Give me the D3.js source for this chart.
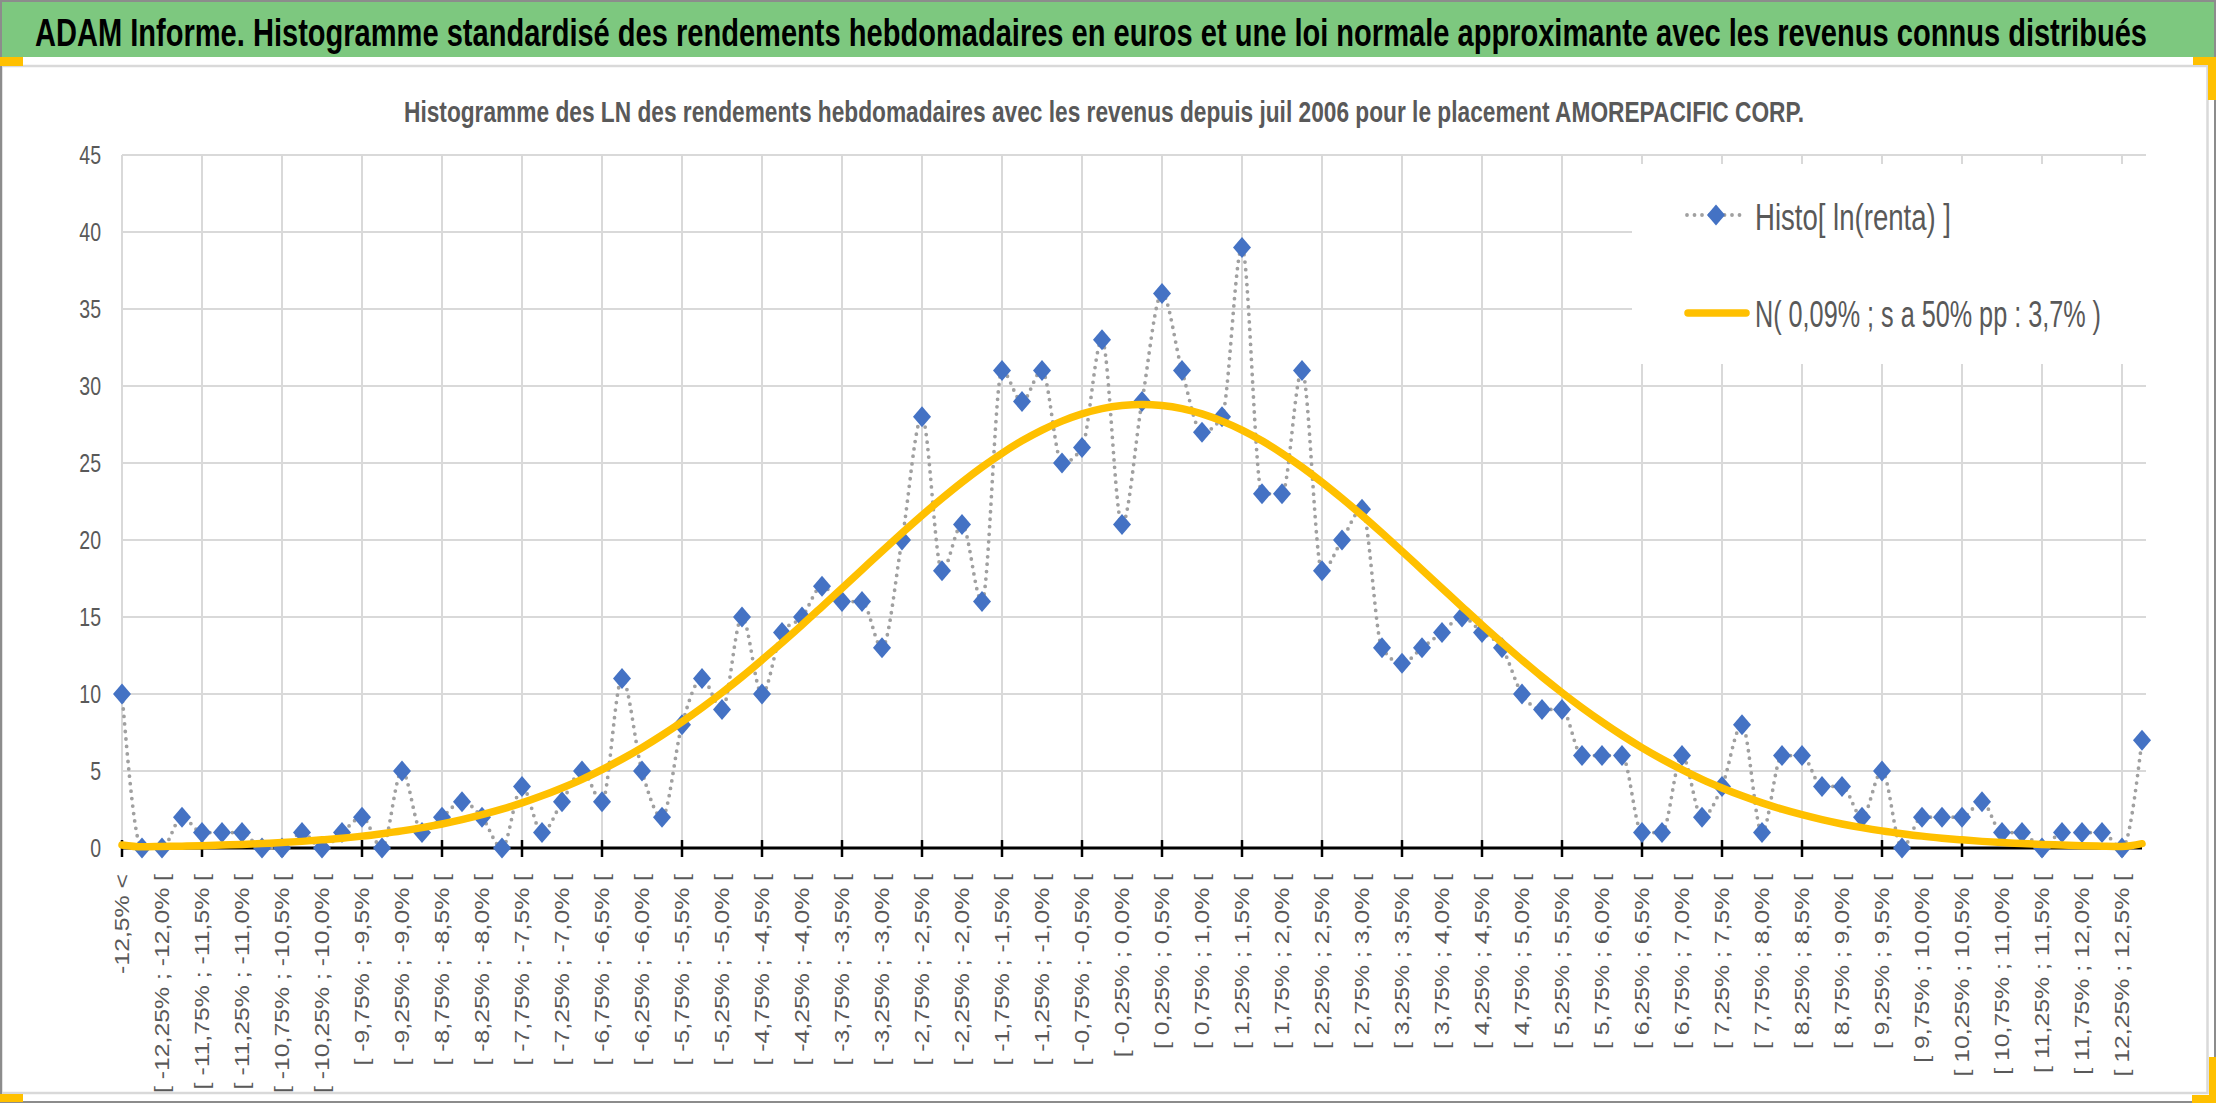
<!DOCTYPE html>
<html>
<head>
<meta charset="utf-8">
<script src="https://cdn.jsdelivr.net/npm/d3@7"></script>
<style>
  body { margin: 0; background: #fff; }
  svg text { font-family: "Liberation Sans", Arial, sans-serif; }
</style>
</head>
<body>
<div id="chart"></div>
<script>
// categories of the histogram (weekly log-returns, 0.25% bins)
const categories = [
  "-12,5% <",
  "[ -12,5% ; -12,25% [", "[ -12,25% ; -12,0% [", "[ -12,0% ; -11,75% [", "[ -11,75% ; -11,5% [",
  "[ -11,5% ; -11,25% [", "[ -11,25% ; -11,0% [", "[ -11,0% ; -10,75% [", "[ -10,75% ; -10,5% [",
  "[ -10,5% ; -10,25% [", "[ -10,25% ; -10,0% [", "[ -10,0% ; -9,75% [", "[ -9,75% ; -9,5% [",
  "[ -9,5% ; -9,25% [", "[ -9,25% ; -9,0% [", "[ -9,0% ; -8,75% [", "[ -8,75% ; -8,5% [",
  "[ -8,5% ; -8,25% [", "[ -8,25% ; -8,0% [", "[ -8,0% ; -7,75% [", "[ -7,75% ; -7,5% [",
  "[ -7,5% ; -7,25% [", "[ -7,25% ; -7,0% [", "[ -7,0% ; -6,75% [", "[ -6,75% ; -6,5% [",
  "[ -6,5% ; -6,25% [", "[ -6,25% ; -6,0% [", "[ -6,0% ; -5,75% [", "[ -5,75% ; -5,5% [",
  "[ -5,5% ; -5,25% [", "[ -5,25% ; -5,0% [", "[ -5,0% ; -4,75% [", "[ -4,75% ; -4,5% [",
  "[ -4,5% ; -4,25% [", "[ -4,25% ; -4,0% [", "[ -4,0% ; -3,75% [", "[ -3,75% ; -3,5% [",
  "[ -3,5% ; -3,25% [", "[ -3,25% ; -3,0% [", "[ -3,0% ; -2,75% [", "[ -2,75% ; -2,5% [",
  "[ -2,5% ; -2,25% [", "[ -2,25% ; -2,0% [", "[ -2,0% ; -1,75% [", "[ -1,75% ; -1,5% [",
  "[ -1,5% ; -1,25% [", "[ -1,25% ; -1,0% [", "[ -1,0% ; -0,75% [", "[ -0,75% ; -0,5% [",
  "[ -0,5% ; -0,25% [", "[ -0,25% ; 0,0% [",
  "[ 0,0% ; 0,25% [", "[ 0,25% ; 0,5% [", "[ 0,5% ; 0,75% [", "[ 0,75% ; 1,0% [",
  "[ 1,0% ; 1,25% [", "[ 1,25% ; 1,5% [", "[ 1,5% ; 1,75% [", "[ 1,75% ; 2,0% [",
  "[ 2,0% ; 2,25% [", "[ 2,25% ; 2,5% [", "[ 2,5% ; 2,75% [", "[ 2,75% ; 3,0% [",
  "[ 3,0% ; 3,25% [", "[ 3,25% ; 3,5% [", "[ 3,5% ; 3,75% [", "[ 3,75% ; 4,0% [",
  "[ 4,0% ; 4,25% [", "[ 4,25% ; 4,5% [", "[ 4,5% ; 4,75% [", "[ 4,75% ; 5,0% [",
  "[ 5,0% ; 5,25% [", "[ 5,25% ; 5,5% [", "[ 5,5% ; 5,75% [", "[ 5,75% ; 6,0% [",
  "[ 6,0% ; 6,25% [", "[ 6,25% ; 6,5% [", "[ 6,5% ; 6,75% [", "[ 6,75% ; 7,0% [",
  "[ 7,0% ; 7,25% [", "[ 7,25% ; 7,5% [", "[ 7,5% ; 7,75% [", "[ 7,75% ; 8,0% [",
  "[ 8,0% ; 8,25% [", "[ 8,25% ; 8,5% [", "[ 8,5% ; 8,75% [", "[ 8,75% ; 9,0% [",
  "[ 9,0% ; 9,25% [", "[ 9,25% ; 9,5% [", "[ 9,5% ; 9,75% [", "[ 9,75% ; 10,0% [",
  "[ 10,0% ; 10,25% [", "[ 10,25% ; 10,5% [", "[ 10,5% ; 10,75% [", "[ 10,75% ; 11,0% [",
  "[ 11,0% ; 11,25% [", "[ 11,25% ; 11,5% [", "[ 11,5% ; 11,75% [", "[ 11,75% ; 12,0% [",
  "[ 12,0% ; 12,25% [", "[ 12,25% ; 12,5% [",
  "12,5% >"
];

// observed counts per bin
const histo = [
  10, 0, 0, 2, 1, 1, 1, 0, 0, 1,
  0, 1, 2, 0, 5, 1, 2, 3, 2, 0,
  4, 1, 3, 5, 3, 11, 5, 2, 8, 11,
  9, 15, 10, 14, 15, 17, 16, 16, 13, 20,
  28, 18, 21, 16, 31, 29, 31, 25, 26, 33,
  21, 29, 36, 31, 27, 28, 39, 23, 23, 31,
  18, 20, 22, 13, 12, 13, 14, 15, 14, 13,
  10, 9, 9, 6, 6, 6, 1, 1, 6, 2,
  4, 8, 1, 6, 6, 4, 4, 2, 5, 0,
  2, 2, 2, 3, 1, 1, 0, 1, 1, 1,
  0, 7
];

// approximating normal curve
const normale = [
  0.20, 0.08, 0.10, 0.12, 0.15, 0.19, 0.23, 0.29, 0.35, 0.43,
  0.53, 0.64, 0.77, 0.93, 1.11, 1.32, 1.56, 1.84, 2.16, 2.52,
  2.93, 3.39, 3.90, 4.46, 5.09, 5.77, 6.51, 7.32, 8.19, 9.11,
  10.09, 11.12, 12.21, 13.33, 14.48, 15.67, 16.87, 18.07, 19.27, 20.45,
  21.60, 22.70, 23.75, 24.73, 25.63, 26.44, 27.14, 27.72, 28.19, 28.53,
  28.73, 28.80, 28.73, 28.53, 28.19, 27.72, 27.14, 26.44, 25.63, 24.73,
  23.75, 22.70, 21.60, 20.45, 19.27, 18.07, 16.87, 15.67, 14.48, 13.33,
  12.21, 11.12, 10.09, 9.11, 8.19, 7.32, 6.51, 5.77, 5.09, 4.46,
  3.90, 3.39, 2.93, 2.52, 2.16, 1.84, 1.56, 1.32, 1.11, 0.93,
  0.77, 0.64, 0.53, 0.43, 0.35, 0.29, 0.23, 0.19, 0.15, 0.12,
  0.10, 0.28
];

const yTicks = [0, 5, 10, 15, 20, 25, 30, 35, 40, 45];

const seriesNames = ["Histo[ ln(renta) ]", "N( 0,09% ; s a 50% pp : 3,7% )"];
const mainTitle = "ADAM Informe. Histogramme standardisé des rendements hebdomadaires en euros et une loi normale approximante avec les revenus connus distribués";
const subTitle = "Histogramme des LN des rendements hebdomadaires avec les revenus depuis juil 2006 pour le placement AMOREPACIFIC CORP.";

const width = 2216, height = 1103;
const grey = '#595959', blue = '#4472C4', gold = '#FFC000';
const squeeze = 0.78; // the picture is horizontally condensed

const svg = d3.select('#chart').append('svg')
  .attr('width', width)
  .attr('height', height);

// frame
svg.append('rect').attr('width', width).attr('height', height).attr('fill', '#fff');
svg.append('rect')
  .attr('x', 1.5).attr('y', 66).attr('width', 2206).attr('height', 1027)
  .attr('fill', 'none').attr('stroke', '#D9D9D9').attr('stroke-width', 2.5);
svg.append('rect')
  .attr('x', 0).attr('y', 2).attr('width', width).attr('height', 55)
  .attr('fill', '#7DC87F');
svg.append('rect')
  .attr('x', 1).attr('y', 1).attr('width', width - 2).attr('height', height - 2)
  .attr('fill', 'none').attr('stroke', '#8C8C8C').attr('stroke-width', 2);

// small yellow corner marks
[[0, 57, 23, 9], [2193, 57, 23, 8], [2208, 57, 8, 43],
 [0, 1094, 23, 8], [2209, 1057, 7, 46], [2192, 1095, 24, 8]].forEach(r => {
  svg.append('rect')
    .attr('x', r[0]).attr('y', r[1]).attr('width', r[2]).attr('height', r[3])
    .attr('fill', gold);
});

// titles (narrow glyphs stretched vertically to mimic the condensed picture)
svg.append('text')
  .attr('transform', 'translate(35,46) scale(1,1.4)')
  .attr('font-size', 28).attr('font-weight', 'bold').attr('fill', '#000')
  .attr('textLength', 2112).attr('lengthAdjust', 'spacingAndGlyphs')
  .text(mainTitle);
svg.append('text')
  .attr('transform', 'translate(404,121.5) scale(1,1.3)')
  .attr('font-size', 22.5).attr('font-weight', 'bold').attr('fill', grey)
  .attr('textLength', 1400).attr('lengthAdjust', 'spacingAndGlyphs')
  .text(subTitle);

// scales
const x = d3.scalePoint().domain(categories).range([122, 2142]);
const y = d3.scaleLinear().domain([0, 45]).range([848, 155]);

// gridlines
const grid = svg.append('g').attr('stroke', '#D9D9D9').attr('stroke-width', 2);
grid.selectAll('line.h')
  .data(yTicks.filter(v => v > 0))
  .join('line')
    .attr('class', 'h')
    .attr('x1', x(categories[0])).attr('x2', 2146)
    .attr('y1', d => y(d)).attr('y2', d => y(d));
const gridCats = categories.filter((c, i) => i % 4 === 0);
grid.selectAll('line.v')
  .data(gridCats)
  .join('line')
    .attr('class', 'v')
    .attr('x1', d => x(d)).attr('x2', d => x(d))
    .attr('y1', y(45)).attr('y2', y(0));

// y axis labels (no axis line)
const yAxis = svg.append('g')
  .attr('transform', 'translate(101,0)')
  .call(d3.axisLeft(y).tickValues(yTicks).tickSize(0).tickPadding(0));
yAxis.select('.domain').remove();
yAxis.selectAll('text')
  .attr('font-size', 25).attr('fill', grey)
  .attr('font-family', '"Liberation Sans", Arial, sans-serif')
  .each(function () {
    this.setAttribute('textLength', this.getComputedTextLength() * squeeze);
    this.setAttribute('lengthAdjust', 'spacingAndGlyphs');
  });

// x axis: line + crossing ticks + rotated labels
const xAxis = svg.append('g');
xAxis.append('line')
  .attr('x1', x(categories[0])).attr('x2', x(categories[categories.length - 1]))
  .attr('y1', y(0)).attr('y2', y(0))
  .attr('stroke', '#000').attr('stroke-width', 3);
xAxis.selectAll('line.tick')
  .data(gridCats)
  .join('line')
    .attr('class', 'tick')
    .attr('x1', d => x(d)).attr('x2', d => x(d))
    .attr('y1', y(0) - 8).attr('y2', y(0) + 9)
    .attr('stroke', '#000').attr('stroke-width', 2.5);
xAxis.selectAll('text')
  .data(categories.filter((c, i) => i % 2 === 0 && i < 101))
  .join('text')
    .attr('transform', d => `translate(${x(d)},874) scale(0.84,1) rotate(-90)`)
    .attr('text-anchor', 'end')
    .attr('dy', '0.35em')
    .attr('font-size', 24.8)
    .attr('fill', grey)
    .text(d => d);

// series 1: dotted grey line with blue diamonds
const diamond = 'M0,-10.5L9,0L0,10.5L-9,0Z';
const lineH = d3.line()
  .x((d, i) => x(categories[i]))
  .y(d => y(d))
  .curve(d3.curveMonotoneX);
svg.append('path')
  .datum(histo)
  .attr('d', lineH)
  .attr('fill', 'none')
  .attr('stroke', '#A0A0A0')
  .attr('stroke-width', 3.8)
  .attr('stroke-linecap', 'round')
  .attr('stroke-dasharray', '0 7.5');
svg.append('g')
  .selectAll('path')
  .data(histo)
  .join('path')
    .attr('d', diamond)
    .attr('transform', (d, i) => `translate(${x(categories[i])},${y(d)})`)
    .attr('fill', blue);

// series 2: normal curve
const lineN = d3.line()
  .x((d, i) => x(categories[i]))
  .y(d => y(d))
  .curve(d3.curveMonotoneX);
svg.append('path')
  .datum(normale)
  .attr('d', lineN)
  .attr('fill', 'none')
  .attr('stroke', gold)
  .attr('stroke-width', 7.5)
  .attr('stroke-linejoin', 'round')
  .attr('stroke-linecap', 'round');

// legend (white box hides the gridlines behind it)
const legend = svg.append('g');
legend.append('rect')
  .attr('x', 1632).attr('y', 164).attr('width', 520).attr('height', 200)
  .attr('fill', '#fff');
legend.append('line')
  .attr('x1', 1687).attr('x2', 1745).attr('y1', 215).attr('y2', 215)
  .attr('stroke', '#A0A0A0').attr('stroke-width', 3.8)
  .attr('stroke-linecap', 'round').attr('stroke-dasharray', '0 7.5');
legend.append('path')
  .attr('d', diamond)
  .attr('transform', 'translate(1716,215)')
  .attr('fill', blue);
legend.append('line')
  .attr('x1', 1688).attr('x2', 1746).attr('y1', 313).attr('y2', 313)
  .attr('stroke', gold).attr('stroke-width', 7.5).attr('stroke-linecap', 'round');
legend.selectAll('text')
  .data(seriesNames)
  .join('text')
    .attr('transform', (d, i) => `translate(1755,${i === 0 ? 230 : 327}) scale(1,1.35)`)
    .attr('font-size', 27)
    .attr('fill', grey)
    .attr('textLength', (d, i) => i === 0 ? 196 : 346)
    .attr('lengthAdjust', 'spacingAndGlyphs')
    .text(d => d);
</script>
</body>
</html>
